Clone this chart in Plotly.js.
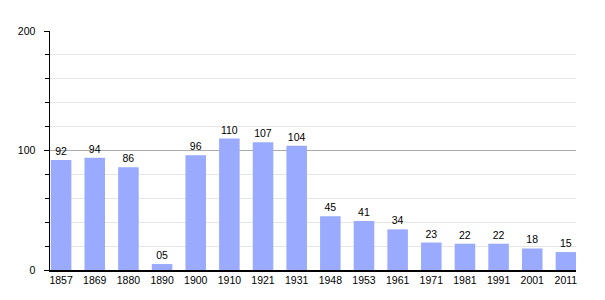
<!DOCTYPE html>
<html>
<head>
<meta charset="utf-8">
<script src="https://cdn.plot.ly/plotly-3.0.1.min.js"></script>
<style>html,body{margin:0;padding:0;background:#fff;}#chart{width:605px;height:300px;}</style>
</head>
<body>
<div id="chart"></div>
<script>
const years = ["1857","1869","1880","1890","1900","1910","1921","1931","1948","1953","1961","1971","1981","1991","2001","2011"];
const population = [92,94,86,5,96,110,107,104,45,41,34,23,22,22,18,15];
const barLabels = ["92","94","86","05","96","110","107","104","45","41","34","23","22","22","18","15"];

const trace = {
  type: "bar",
  x: years,
  y: population,
  text: barLabels,
  textposition: "outside",
  cliponaxis: false,
  textfont: {family: "Liberation Sans, Arial, sans-serif", size: 10.5, color: "#000"},
  marker: {color: "#99aaff"},
  width: 0.61,
  hoverinfo: "x+y"
};

const layout = {
  width: 605, height: 300,
  margin: {l: 50, r: 29, t: 31, b: 30, pad: 0},
  paper_bgcolor: "#fff", plot_bgcolor: "#fff",
  showlegend: false,
  font: {family: "Liberation Sans, Arial, sans-serif", size: 10.5, color: "#000"},
  xaxis: {
    type: "category",
    range: [-0.33, 15.3],
    showline: true, linecolor: "#000", linewidth: 1.5,
    ticks: "", showgrid: false, zeroline: false,
    tickfont: {size: 10.5, color: "#000"},
    fixedrange: true
  },
  yaxis: {
    range: [0, 200],
    dtick: 100, tick0: 0,
    showline: true, linecolor: "#000", linewidth: 1.5,
    ticks: "outside", ticklen: 5, tickcolor: "#000", tickwidth: 1,
    showgrid: true, gridcolor: "#aaaaaa", gridwidth: 1,
    zeroline: false,
    ticklabelstandoff: 6,
    tickfont: {size: 10.5, color: "#000"},
    minor: {dtick: 20, showgrid: true, gridcolor: "#e6e6e6", gridwidth: 1, ticks: "outside", ticklen: 4, tickcolor: "#000"},
    fixedrange: true
  }
};

Plotly.newPlot("chart", [trace], layout, {displayModeBar: false, staticPlot: true});
</script>
</body>
</html>
